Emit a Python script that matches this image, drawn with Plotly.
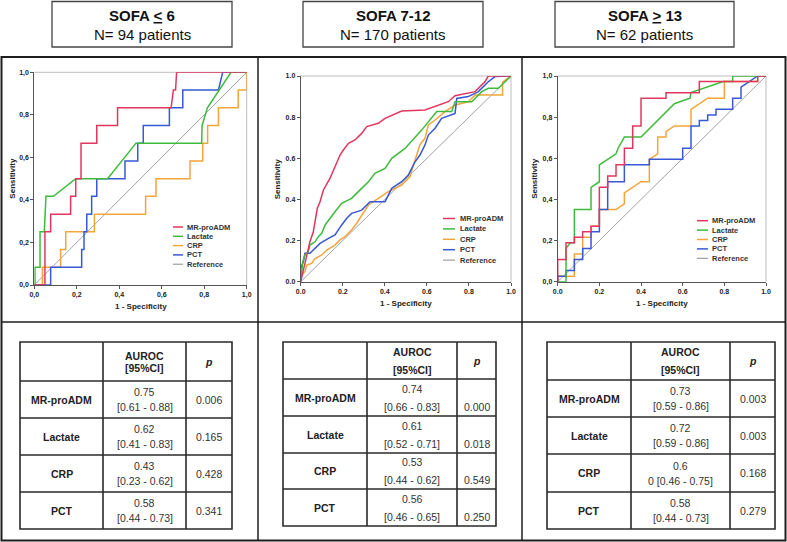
import plotly.graph_objects as go

W, H = 787, 542
FONT = "Arial, 'Liberation Sans', Helvetica, sans-serif"

# ---------------- data ----------------
groups = ["SOFA <u>&lt;</u> 6", "SOFA 7-12", "SOFA <u>&gt;</u> 13"]
patients = ["N= 94 patients", "N= 170 patients", "N= 62 patients"]
markers = ["MR-proADM", "Lactate", "CRP", "PCT"]
legend_names = ["MR-proADM", "Lactate", "CRP", "PCT", "Reference"]
tick_vals = [0, 0.2, 0.4, 0.6, 0.8, 1.0]
tick_comma = ["0,0", "0,2", "0,4", "0,6", "0,8", "1,0"]
tick_dot = ["0.0", "0.2", "0.4", "0.6", "0.8", "1.0"]
ref_fpr = [0, 1]
ref_tpr = [0, 1]

# Panel 1: SOFA <= 6
p1_mr_fpr = [0, 0.05, 0.05, 0.077, 0.077, 0.171, 0.171, 0.195, 0.195, 0.22, 0.22, 0.294, 0.294, 0.392, 0.392, 0.644, 0.655, 0.665, 0.67, 1]
p1_mr_tpr = [0, 0, 0.25, 0.25, 0.333, 0.333, 0.417, 0.417, 0.5, 0.5, 0.667, 0.667, 0.75, 0.75, 0.833, 0.833, 0.917, 0.917, 1, 1]
p1_lac_fpr = [0, 0.003, 0.003, 0.027, 0.027, 0.047, 0.055, 0.09, 0.195, 0.345, 0.479, 0.788, 0.79, 0.815, 0.926, 1]
p1_lac_tpr = [0, 0, 0.083, 0.083, 0.25, 0.25, 0.417, 0.417, 0.5, 0.5, 0.667, 0.667, 0.75, 0.833, 1, 1]
p1_crp_fpr = [0, 0.038, 0.038, 0.124, 0.124, 0.148, 0.148, 0.283, 0.283, 0.524, 0.524, 0.573, 0.573, 0.733, 0.733, 0.793, 0.793, 0.816, 0.816, 0.867, 0.867, 0.96, 0.96, 1, 1]
p1_crp_tpr = [0, 0, 0.083, 0.083, 0.167, 0.167, 0.25, 0.25, 0.333, 0.333, 0.417, 0.417, 0.5, 0.5, 0.583, 0.583, 0.667, 0.667, 0.75, 0.75, 0.833, 0.833, 0.917, 0.917, 1]
p1_pct_fpr = [0, 0.077, 0.077, 0.223, 0.223, 0.234, 0.234, 0.247, 0.247, 0.27, 0.27, 0.294, 0.294, 0.427, 0.427, 0.487, 0.487, 0.513, 0.513, 0.636, 0.636, 0.699, 0.699, 0.867, 0.887, 1]
p1_pct_tpr = [0, 0, 0.083, 0.083, 0.167, 0.167, 0.25, 0.25, 0.333, 0.333, 0.417, 0.417, 0.5, 0.5, 0.583, 0.583, 0.667, 0.667, 0.75, 0.75, 0.833, 0.833, 0.917, 0.917, 1, 1]

# Panel 2: SOFA 7-12
p2_mr_fpr = [0, 0.044, 0.06, 0.068, 0.079, 0.092, 0.108, 0.139, 0.155, 0.171, 0.187, 0.203, 0.227, 0.258, 0.29, 0.314, 0.369, 0.401, 0.433, 0.48, 0.591, 0.639, 0.702, 0.734, 0.829, 0.876, 0.892, 1]
p2_mr_tpr = [0, 0.194, 0.243, 0.29, 0.357, 0.389, 0.446, 0.502, 0.543, 0.583, 0.616, 0.64, 0.673, 0.689, 0.721, 0.754, 0.77, 0.794, 0.81, 0.83, 0.835, 0.851, 0.875, 0.904, 0.924, 0.972, 1, 1]
p2_lac_fpr = [0, 0.005, 0.01, 0.02, 0.036, 0.044, 0.068, 0.084, 0.1, 0.116, 0.132, 0.163, 0.195, 0.242, 0.274, 0.322, 0.353, 0.401, 0.433, 0.496, 0.575, 0.647, 0.718, 0.734, 0.813, 0.861, 0.892, 0.94, 1]
p2_lac_tpr = [0, 0.06, 0.097, 0.13, 0.146, 0.178, 0.194, 0.219, 0.235, 0.276, 0.3, 0.34, 0.381, 0.405, 0.438, 0.486, 0.527, 0.551, 0.6, 0.648, 0.737, 0.827, 0.827, 0.875, 0.875, 0.924, 0.94, 0.94, 1]
p2_crp_fpr = [0, 0.005, 0.02, 0.029, 0.052, 0.068, 0.1, 0.124, 0.163, 0.187, 0.211, 0.242, 0.266, 0.29, 0.322, 0.369, 0.417, 0.48, 0.52, 0.536, 0.551, 0.567, 0.591, 0.607, 0.639, 0.686, 0.734, 0.797, 0.829, 0.892, 0.96, 0.96, 1]
p2_crp_tpr = [0, 0.032, 0.049, 0.081, 0.089, 0.113, 0.13, 0.154, 0.178, 0.203, 0.219, 0.251, 0.284, 0.324, 0.373, 0.405, 0.438, 0.47, 0.511, 0.567, 0.616, 0.665, 0.697, 0.762, 0.786, 0.827, 0.859, 0.875, 0.908, 0.908, 0.908, 0.97, 1]
p2_pct_fpr = [0, 0, 0.013, 0.02, 0.044, 0.068, 0.092, 0.132, 0.163, 0.195, 0.219, 0.242, 0.29, 0.33, 0.401, 0.433, 0.48, 0.512, 0.544, 0.567, 0.591, 0.607, 0.639, 0.67, 0.734, 0.742, 0.797, 0.845, 0.892, 0.924, 1]
p2_pct_tpr = [0, 0.065, 0.097, 0.138, 0.138, 0.162, 0.186, 0.211, 0.227, 0.276, 0.308, 0.332, 0.348, 0.389, 0.389, 0.454, 0.486, 0.519, 0.583, 0.616, 0.665, 0.713, 0.746, 0.794, 0.818, 0.891, 0.9, 0.924, 0.972, 0.997, 1]

# Panel 3: SOFA >= 13
p3_mr_fpr = [0, 0, 0.04, 0.04, 0.08, 0.08, 0.12, 0.12, 0.16, 0.16, 0.2, 0.2, 0.24, 0.24, 0.28, 0.28, 0.32, 0.32, 0.36, 0.36, 0.4, 0.4, 0.52, 0.52, 0.68, 0.68, 0.96, 0.96, 1]
p3_mr_tpr = [0, 0.108, 0.108, 0.189, 0.189, 0.216, 0.216, 0.243, 0.243, 0.27, 0.27, 0.459, 0.459, 0.514, 0.514, 0.568, 0.568, 0.649, 0.649, 0.757, 0.757, 0.892, 0.892, 0.919, 0.919, 0.973, 0.973, 1, 1]
p3_lac_fpr = [0, 0.04, 0.04, 0.06, 0.08, 0.08, 0.16, 0.16, 0.2, 0.2, 0.24, 0.28, 0.29, 0.32, 0.4, 0.56, 0.635, 0.64, 0.795, 0.84, 0.84, 1]
p3_lac_tpr = [0, 0, 0.162, 0.189, 0.189, 0.351, 0.351, 0.459, 0.486, 0.568, 0.595, 0.622, 0.649, 0.703, 0.703, 0.865, 0.892, 0.919, 0.973, 0.973, 1, 1]
p3_crp_fpr = [0, 0, 0.08, 0.08, 0.12, 0.12, 0.16, 0.16, 0.2, 0.2, 0.28, 0.32, 0.32, 0.36, 0.4, 0.44, 0.44, 0.48, 0.48, 0.52, 0.52, 0.56, 0.64, 0.64, 0.68, 0.72, 0.8, 0.8, 0.96, 0.96, 1]
p3_crp_tpr = [0, 0.027, 0.027, 0.135, 0.135, 0.216, 0.216, 0.27, 0.27, 0.351, 0.351, 0.378, 0.432, 0.459, 0.486, 0.486, 0.595, 0.622, 0.703, 0.703, 0.73, 0.757, 0.757, 0.838, 0.865, 0.892, 0.892, 0.973, 0.973, 1, 1]
p3_pct_fpr = [0, 0, 0.04, 0.04, 0.08, 0.08, 0.12, 0.12, 0.16, 0.16, 0.2, 0.2, 0.24, 0.24, 0.32, 0.32, 0.44, 0.44, 0.6, 0.6, 0.64, 0.64, 0.68, 0.68, 0.72, 0.72, 0.76, 0.76, 0.84, 0.84, 0.88, 0.88, 0.96, 1]
p3_pct_tpr = [0, 0.027, 0.027, 0.054, 0.054, 0.108, 0.108, 0.162, 0.162, 0.243, 0.243, 0.351, 0.351, 0.486, 0.486, 0.568, 0.568, 0.595, 0.595, 0.649, 0.649, 0.757, 0.757, 0.784, 0.784, 0.811, 0.811, 0.838, 0.838, 0.892, 0.892, 0.946, 1, 1]

# Tables
auroc = [["0.75", "0.62", "0.43", "0.58"],
         ["0.74", "0.61", "0.53", "0.56"],
         ["0.73", "0.72", "0.6", "0.58"]]
ci = [["[0.61 - 0.88]", "[0.41 - 0.83]", "[0.23 - 0.62]", "[0.44 - 0.73]"],
      ["[0.66 - 0.83]", "[0.52 - 0.71]", "[0.44 - 0.62]", "[0.46 - 0.65]"],
      ["[0.59 - 0.86]", "[0.59 - 0.86]", "0 [0.46 - 0.75]", "[0.44 - 0.73]"]]
pvals = [["0.006", "0.165", "0.428", "0.341"],
         ["0.000", "0.018", "0.549", "0.250"],
         ["0.003", "0.003", "0.168", "0.279"]]

panels = [
    {"MR-proADM": (p1_mr_fpr, p1_mr_tpr), "Lactate": (p1_lac_fpr, p1_lac_tpr),
     "CRP": (p1_crp_fpr, p1_crp_tpr), "PCT": (p1_pct_fpr, p1_pct_tpr)},
    {"MR-proADM": (p2_mr_fpr, p2_mr_tpr), "Lactate": (p2_lac_fpr, p2_lac_tpr),
     "CRP": (p2_crp_fpr, p2_crp_tpr), "PCT": (p2_pct_fpr, p2_pct_tpr)},
    {"MR-proADM": (p3_mr_fpr, p3_mr_tpr), "Lactate": (p3_lac_fpr, p3_lac_tpr),
     "CRP": (p3_crp_fpr, p3_crp_tpr), "PCT": (p3_pct_fpr, p3_pct_tpr)},
]

# ---------------- styling ----------------
colors = {"MR-proADM": "#e2365f", "Lactate": "#3dbb3d", "CRP": "#f4a53a",
          "PCT": "#3858d6", "Reference": "#8a8a8a"}
draw_order = ["Reference", "CRP", "PCT", "Lactate", "MR-proADM"]
x_ticktext = [tick_comma, tick_dot, tick_dot]
y_ticktext = [tick_comma, tick_dot, tick_comma]

# plot areas in pixels (left, right, top, bottom)
plot_px = [(34.3, 246.7, 72.3, 285.0), (300.7, 511.0, 76.0, 281.7), (557.7, 766.0, 76.0, 281.7)]
ylab_x = [13, 277.5, 535]
xlab_y = [306, 303, 303]
legend_px = [  # x_line0, x_line1, x_text, y_first, spacing
    (173, 183, 185, 227, 9.3),
    (443, 455, 458, 218.5, 10.4),
    (697, 708, 710, 220.7, 9.4),
]
header_px = [(52, 232), (303, 483), (555, 734)]
table_px = [
    dict(xs=[20, 103, 186, 232], ys=[342, 381, 418, 455, 492, 529], spread=False),
    dict(xs=[283, 367, 457, 496], ys=[342, 379, 416, 453, 489, 526], spread=True),
    dict(xs=[547, 631, 730, 775], ys=[342, 380, 417, 454, 492, 529], spread=False),
]


def X(px):
    return px / W


def Y(py):
    return 1 - py / H


fig = go.Figure()
shapes = []
annotations = []


def note(text, px, py, font, **kw):
    d = dict(text=text, x=X(px), y=Y(py), xref="paper", yref="paper",
             showarrow=False, font=font, xanchor="center", yanchor="middle")
    d.update(kw)
    annotations.append(d)


for i, panel in enumerate(panels):
    ax = "" if i == 0 else str(i + 1)
    for name in draw_order:
        if name == "Reference":
            xs, ys, width = ref_fpr, ref_tpr, 0.8
        else:
            xs, ys = panel[name]
            width = 1.5
        fig.add_trace(go.Scatter(
            x=xs, y=ys, mode="lines", name=name, showlegend=False,
            line=dict(color=colors[name], width=width),
            xaxis="x" + ax, yaxis="y" + ax, cliponaxis=False, hoverinfo="skip"))

    l, r, t, b = plot_px[i]
    axis_common = dict(range=[0, 1], showgrid=False, zeroline=False, showline=True,
                       linecolor="#555", linewidth=1, ticks="outside", ticklen=3,
                       tickcolor="#555", tickwidth=1, tickvals=tick_vals,
                       tickfont=dict(family=FONT, size=7, color="#222"))
    fig.update_layout(**{
        "xaxis" + ax: dict(axis_common, domain=[X(l), X(r)], anchor="y" + ax,
                           ticktext=["<b>%s</b>" % s for s in x_ticktext[i]]),
        "yaxis" + ax: dict(axis_common, domain=[Y(b), Y(t)], anchor="x" + ax,
                           ticktext=["<b>%s</b>" % s for s in y_ticktext[i]]),
    })
    xd, yd = "x" + ax + " domain", "y" + ax + " domain"
    shapes.append(dict(type="line", xref=xd, yref=yd, x0=0, x1=1, y0=1, y1=1,
                       line=dict(color="#bdbdbd", width=1), layer="below"))
    shapes.append(dict(type="line", xref=xd, yref=yd, x0=1, x1=1, y0=0, y1=1,
                       line=dict(color="#bdbdbd", width=1), layer="below"))
    lab_font = dict(family=FONT, size=8, color="#222")
    note("<b>Sensitivity</b>", ylab_x[i], (t + b) / 2, lab_font, textangle=-90)
    note("<b>1 - Specificity</b>", (l + r) / 2, xlab_y[i], lab_font)

    # legend
    lx0, lx1, ltx, ly, ldy = legend_px[i]
    for k, name in enumerate(legend_names):
        yy = ly + k * ldy
        shapes.append(dict(type="line", xref="paper", yref="paper", x0=X(lx0), x1=X(lx1),
                           y0=Y(yy), y1=Y(yy),
                           line=dict(color=colors[name], width=1.5 if name != "Reference" else 1)))
        note("<b>%s</b>" % name, ltx, yy, dict(family=FONT, size=7.5, color="#333"),
             xanchor="left")

    # header box
    hx0, hx1 = header_px[i]
    shapes.append(dict(type="rect", xref="paper", yref="paper", x0=X(hx0), x1=X(hx1),
                       y0=Y(47), y1=Y(1.5), line=dict(color="#444", width=1.3)))
    hfont = dict(family=FONT, size=15, color="#111")
    note("<b>%s</b>" % groups[i], (hx0 + hx1) / 2, 15.5, hfont)
    note(patients[i], (hx0 + hx1) / 2, 34.5, hfont)

    # table
    tp = table_px[i]
    txs, tys, spread = tp["xs"], tp["ys"], tp["spread"]
    tline = dict(color="#2a2a2a", width=1.6)
    shapes.append(dict(type="rect", xref="paper", yref="paper", x0=X(txs[0]), x1=X(txs[-1]),
                       y0=Y(tys[-1]), y1=Y(tys[0]), line=tline))
    for xv in txs[1:-1]:
        shapes.append(dict(type="line", xref="paper", yref="paper", x0=X(xv), x1=X(xv),
                           y0=Y(tys[-1]), y1=Y(tys[0]), line=tline))
    for yv in tys[1:-1]:
        shapes.append(dict(type="line", xref="paper", yref="paper", x0=X(txs[0]), x1=X(txs[-1]),
                           y0=Y(yv), y1=Y(yv), line=tline))
    c0 = (txs[0] + txs[1]) / 2
    c1 = (txs[1] + txs[2]) / 2
    c2 = (txs[2] + txs[3]) / 2
    hc = (tys[0] + tys[1]) / 2
    off_h = 9 if (spread or i == 2) else 6
    tf = dict(family=FONT, size=10.5, color="#222")
    tv = dict(family=FONT, size=10.5, color="#333")
    note("<b>AUROC</b>", c1, hc - off_h, tf)
    note("<b>[95%CI]</b>", c1, hc + off_h, tf)
    note("<b><i>p</i></b>", c2, hc, tf)
    for k, m in enumerate(markers):
        rc = (tys[k + 1] + tys[k + 2]) / 2
        off = 9 if spread else 7.5
        note("<b>%s</b>" % m, c0, rc, tf)
        note(auroc[i][k], c1, rc - off, tv)
        note(ci[i][k], c1, rc + off, tv)
        note(pvals[i][k], c2, rc + off if spread else rc, tv)

# outer frame and dividers
shapes.append(dict(type="rect", xref="paper", yref="paper", x0=X(1.5), x1=X(785.5),
                   y0=Y(540.5), y1=Y(57), line=dict(color="#1e1e1e", width=2)))
for xv in [258, 522]:
    shapes.append(dict(type="line", xref="paper", yref="paper", x0=X(xv), x1=X(xv),
                       y0=Y(540.5), y1=Y(57), line=dict(color="#1e1e1e", width=1.5)))
shapes.append(dict(type="line", xref="paper", yref="paper", x0=X(1.5), x1=X(785.5),
                   y0=Y(322), y1=Y(322), line=dict(color="#1e1e1e", width=1.5)))

fig.update_layout(
    width=W, height=H, margin=dict(l=0, r=0, t=0, b=0, autoexpand=False),
    paper_bgcolor="white", plot_bgcolor="white",
    shapes=shapes, annotations=annotations, showlegend=False,
    font=dict(family=FONT),
)

# remove the browser's default page margin so the figure sits at the window origin
fig.write_html("out.html", config={"displayModeBar": False},
               post_script="document.body.style.margin='0';document.body.style.overflow='hidden';")
